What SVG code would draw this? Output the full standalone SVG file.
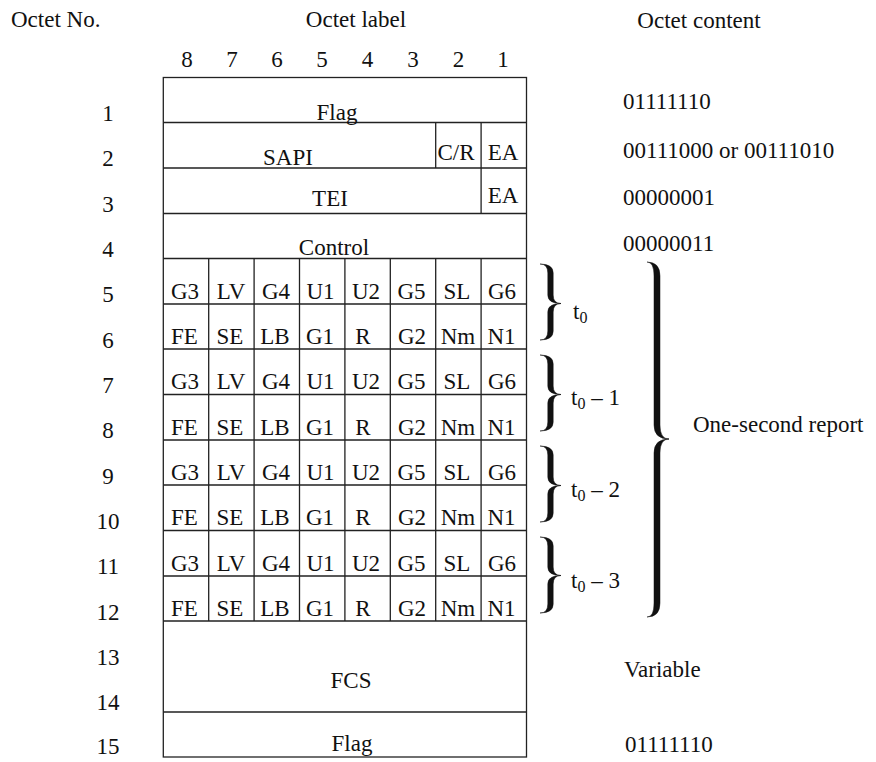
<svg xmlns="http://www.w3.org/2000/svg" width="876" height="762" viewBox="0 0 876 762">
<style>
text{font-family:"Liberation Serif","Times New Roman",serif;font-size:23px;fill:#111}
.m{text-anchor:middle}
.ln{stroke:#222;stroke-width:1.3;fill:none}
.br{fill:#111;stroke:#111;stroke-width:0.5}
</style>
<rect width="876" height="762" fill="#fff"/>
<g id="headers">
<text x="11" y="27">Octet No.</text>
<text class="m" x="356" y="27">Octet label</text>
<text class="m" x="699" y="28">Octet content</text>
</g>
<g id="bit-numbers">
<text class="m" x="187" y="67">8</text>
<text class="m" x="232" y="67">7</text>
<text class="m" x="277" y="67">6</text>
<text class="m" x="322" y="67">5</text>
<text class="m" x="367.5" y="67">4</text>
<text class="m" x="413" y="67">3</text>
<text class="m" x="458.5" y="67">2</text>
<text class="m" x="503" y="67">1</text>
</g>
<g id="octet-numbers">
<text class="m" x="108" y="121">1</text>
<text class="m" x="108" y="166.3">2</text>
<text class="m" x="108" y="211.7">3</text>
<text class="m" x="108" y="257">4</text>
<text class="m" x="108" y="302.3">5</text>
<text class="m" x="108" y="347.7">6</text>
<text class="m" x="108" y="393">7</text>
<text class="m" x="108" y="438.3">8</text>
<text class="m" x="108" y="483.6">9</text>
<text class="m" x="108" y="529">10</text>
<text class="m" x="108" y="574.3">11</text>
<text class="m" x="108" y="619.6">12</text>
<text class="m" x="108" y="665">13</text>
<text class="m" x="108" y="710.3">14</text>
<text class="m" x="108" y="754">15</text>
</g>
<g id="frame">
<rect class="ln" x="163.3" y="77.5" width="363.2" height="679.5"/>
<path class="ln" d="M163.3 122.5H526.5M163.3 168H526.5M163.3 213.5H526.5M163.3 258.5H526.5M163.3 304H526.5M163.3 349H526.5M163.3 394.5H526.5M163.3 440H526.5M163.3 485H526.5M163.3 530.5H526.5M163.3 576H526.5M163.3 621H526.5M163.3 712H526.5"/>
<path class="ln" d="M435.7 122.5V168M481.1 122.5V213.5M208.7 258.5V621M254.1 258.5V621M299.5 258.5V621M344.9 258.5V621M390.3 258.5V621M435.7 258.5V621M481.1 258.5V621"/>
</g>
<g id="octet-1"><text class="m" x="337" y="120">Flag</text></g>
<g id="octet-2"><text class="m" x="288" y="165">SAPI</text><text class="m" x="456" y="160">C/R</text><text class="m" x="503" y="160">EA</text></g>
<g id="octet-3"><text class="m" x="330" y="206">TEI</text><text class="m" x="503" y="203">EA</text></g>
<g id="octet-4"><text class="m" x="334" y="255">Control</text></g>
<g id="octet-5">
<text class="m" x="185" y="298.5">G3</text><text class="m" x="231" y="298.5">LV</text><text class="m" x="276" y="298.5">G4</text><text class="m" x="320.5" y="298.5">U1</text><text class="m" x="366" y="298.5">U2</text><text class="m" x="411.5" y="298.5">G5</text><text class="m" x="457" y="298.5">SL</text><text class="m" x="502" y="298.5">G6</text>
</g>
<g id="octet-6">
<text class="m" x="184.5" y="343.5">FE</text><text class="m" x="230" y="343.5">SE</text><text class="m" x="275" y="343.5">LB</text><text class="m" x="320" y="343.5">G1</text><text class="m" x="363" y="343.5">R</text><text class="m" x="412" y="343.5">G2</text><text class="m" x="458" y="343.5">Nm</text><text class="m" x="501.5" y="343.5">N1</text>
</g>
<g id="octet-7">
<text class="m" x="185" y="389">G3</text><text class="m" x="231" y="389">LV</text><text class="m" x="276" y="389">G4</text><text class="m" x="320.5" y="389">U1</text><text class="m" x="366" y="389">U2</text><text class="m" x="411.5" y="389">G5</text><text class="m" x="457" y="389">SL</text><text class="m" x="502" y="389">G6</text>
</g>
<g id="octet-8">
<text class="m" x="184.5" y="434.5">FE</text><text class="m" x="230" y="434.5">SE</text><text class="m" x="275" y="434.5">LB</text><text class="m" x="320" y="434.5">G1</text><text class="m" x="363" y="434.5">R</text><text class="m" x="412" y="434.5">G2</text><text class="m" x="458" y="434.5">Nm</text><text class="m" x="501.5" y="434.5">N1</text>
</g>
<g id="octet-9">
<text class="m" x="185" y="479.5">G3</text><text class="m" x="231" y="479.5">LV</text><text class="m" x="276" y="479.5">G4</text><text class="m" x="320.5" y="479.5">U1</text><text class="m" x="366" y="479.5">U2</text><text class="m" x="411.5" y="479.5">G5</text><text class="m" x="457" y="479.5">SL</text><text class="m" x="502" y="479.5">G6</text>
</g>
<g id="octet-10">
<text class="m" x="184.5" y="525">FE</text><text class="m" x="230" y="525">SE</text><text class="m" x="275" y="525">LB</text><text class="m" x="320" y="525">G1</text><text class="m" x="363" y="525">R</text><text class="m" x="412" y="525">G2</text><text class="m" x="458" y="525">Nm</text><text class="m" x="501.5" y="525">N1</text>
</g>
<g id="octet-11">
<text class="m" x="185" y="570.5">G3</text><text class="m" x="231" y="570.5">LV</text><text class="m" x="276" y="570.5">G4</text><text class="m" x="320.5" y="570.5">U1</text><text class="m" x="366" y="570.5">U2</text><text class="m" x="411.5" y="570.5">G5</text><text class="m" x="457" y="570.5">SL</text><text class="m" x="502" y="570.5">G6</text>
</g>
<g id="octet-12">
<text class="m" x="184.5" y="615.5">FE</text><text class="m" x="230" y="615.5">SE</text><text class="m" x="275" y="615.5">LB</text><text class="m" x="320" y="615.5">G1</text><text class="m" x="363" y="615.5">R</text><text class="m" x="412" y="615.5">G2</text><text class="m" x="458" y="615.5">Nm</text><text class="m" x="501.5" y="615.5">N1</text>
</g>
<g id="octet-13-14"><text class="m" x="351" y="688">FCS</text></g>
<g id="octet-15"><text class="m" x="352" y="751">Flag</text></g>
<g id="contents">
<text x="623" y="109">01111110</text>
<text x="623" y="158">00111000 or 00111010</text>
<text x="623" y="205">00000001</text>
<text x="623" y="251">00000011</text>
<text x="624" y="677">Variable</text>
<text x="625" y="752">01111110</text>
</g>
<g id="braces">
<path class="br" d="M540 264Q553.2 264 553.2 273L553.2 295Q553.2 303.5 561 303.5Q553.2 303.5 553.2 312L553.2 331Q553.2 340 540 340Q547.8 340 547.8 331L547.8 312Q547.8 303.5 561 303.5Q547.8 303.5 547.8 295L547.8 273Q547.8 264 540 264Z"/>
<path class="br" d="M540 355Q553.2 355 553.2 364L553.2 386Q553.2 394.5 561 394.5Q553.2 394.5 553.2 403L553.2 422Q553.2 431 540 431Q547.8 431 547.8 422L547.8 403Q547.8 394.5 561 394.5Q547.8 394.5 547.8 386L547.8 364Q547.8 355 540 355Z"/>
<path class="br" d="M540 446Q553.2 446 553.2 455L553.2 477Q553.2 485.5 561 485.5Q553.2 485.5 553.2 494L553.2 513Q553.2 522 540 522Q547.8 522 547.8 513L547.8 494Q547.8 485.5 561 485.5Q547.8 485.5 547.8 477L547.8 455Q547.8 446 540 446Z"/>
<path class="br" d="M540 537Q553.2 537 553.2 546L553.2 567Q553.2 575.5 561 575.5Q553.2 575.5 553.2 584L553.2 604Q553.2 613 540 613Q547.8 613 547.8 604L547.8 584Q547.8 575.5 561 575.5Q547.8 575.5 547.8 567L547.8 546Q547.8 537 540 537Z"/>
<path class="br" d="M647 262Q660 262 660 276L660 425Q660 439 669 439Q660 439 660 453L660 603Q660 617 647 617Q654 617 654 603L654 453Q654 439 669 439Q654 439 654 425L654 276Q654 262 647 262Z"/>
</g>
<g id="brace-labels">
<text x="573" y="319">t<tspan dy="4" font-size="16">0</tspan></text>
<text x="571" y="405">t<tspan dy="4" font-size="16">0</tspan><tspan dy="-4"> – 1</tspan></text>
<text x="571" y="497">t<tspan dy="4" font-size="16">0</tspan><tspan dy="-4"> – 2</tspan></text>
<text x="571" y="588">t<tspan dy="4" font-size="16">0</tspan><tspan dy="-4"> – 3</tspan></text>
<text x="693" y="432">One-second report</text>
</g>
</svg>
